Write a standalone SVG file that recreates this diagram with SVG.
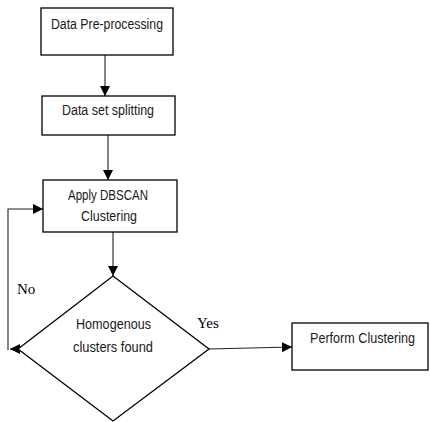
<svg xmlns="http://www.w3.org/2000/svg" width="430" height="422" viewBox="0 0 430 422">
<style>
.box{fill:#fff;stroke:#000;stroke-width:1.3}
.lbl{font-family:"Liberation Sans",Arial,sans-serif;font-size:14px;fill:#1a1a1a}
.ser{font-family:"Liberation Serif","Times New Roman",serif;font-size:15px;fill:#000}
.con{fill:none;stroke:#222;stroke-width:1.1}
</style>
<defs>
<marker id="ah" markerUnits="userSpaceOnUse" markerWidth="10" markerHeight="10" refX="8" refY="4" orient="auto" viewBox="0 0 8 8">
<path d="M0,0 L8,4 L0,8 Z" fill="#000"/>
</marker>
</defs>
<rect width="430" height="422" fill="#fff"/>
<g id="connectors">
<line class="con" x1="105" y1="55" x2="105" y2="96" marker-end="url(#ah)"/>
<line class="con" x1="108" y1="135" x2="108" y2="180" marker-end="url(#ah)"/>
<line class="con" x1="113" y1="232" x2="113" y2="276" marker-end="url(#ah)"/>
<path class="con" d="M8,350 L8,209 L43,209" marker-end="url(#ah)"/>
<path class="con" d="M18,349 L10,349" marker-end="url(#ah)"/>
<line class="con" x1="209" y1="349" x2="292" y2="347" marker-end="url(#ah)"/>
<text class="ser" x="17" y="294">No</text>
<text class="ser" x="197" y="328">Yes</text>
</g>
<g id="n1">
<rect class="box" x="41" y="8" width="132" height="47"/>
<text class="lbl" x="51" y="29" textLength="112" lengthAdjust="spacingAndGlyphs">Data Pre-processing</text>
</g>
<g id="n2">
<rect class="box" x="42" y="96" width="133" height="39"/>
<text class="lbl" x="62" y="115" textLength="92" lengthAdjust="spacingAndGlyphs">Data set splitting</text>
</g>
<g id="n3">
<rect class="box" x="43" y="180" width="134" height="52"/>
<text class="lbl" x="68" y="200" textLength="80" lengthAdjust="spacingAndGlyphs">Apply DBSCAN</text>
<text class="lbl" x="81" y="221" textLength="56" lengthAdjust="spacingAndGlyphs">Clustering</text>
</g>
<g id="n4">
<polygon class="box" points="113,276 209,349 113,421 18,349"/>
<text class="lbl" x="76" y="329" textLength="75" lengthAdjust="spacingAndGlyphs">Homogenous</text>
<text class="lbl" x="73" y="352" textLength="80" lengthAdjust="spacingAndGlyphs">clusters found</text>
</g>
<g id="n5">
<rect class="box" x="292" y="323" width="136" height="47"/>
<text class="lbl" x="310" y="343" textLength="105" lengthAdjust="spacingAndGlyphs">Perform Clustering</text>
</g>
</svg>
